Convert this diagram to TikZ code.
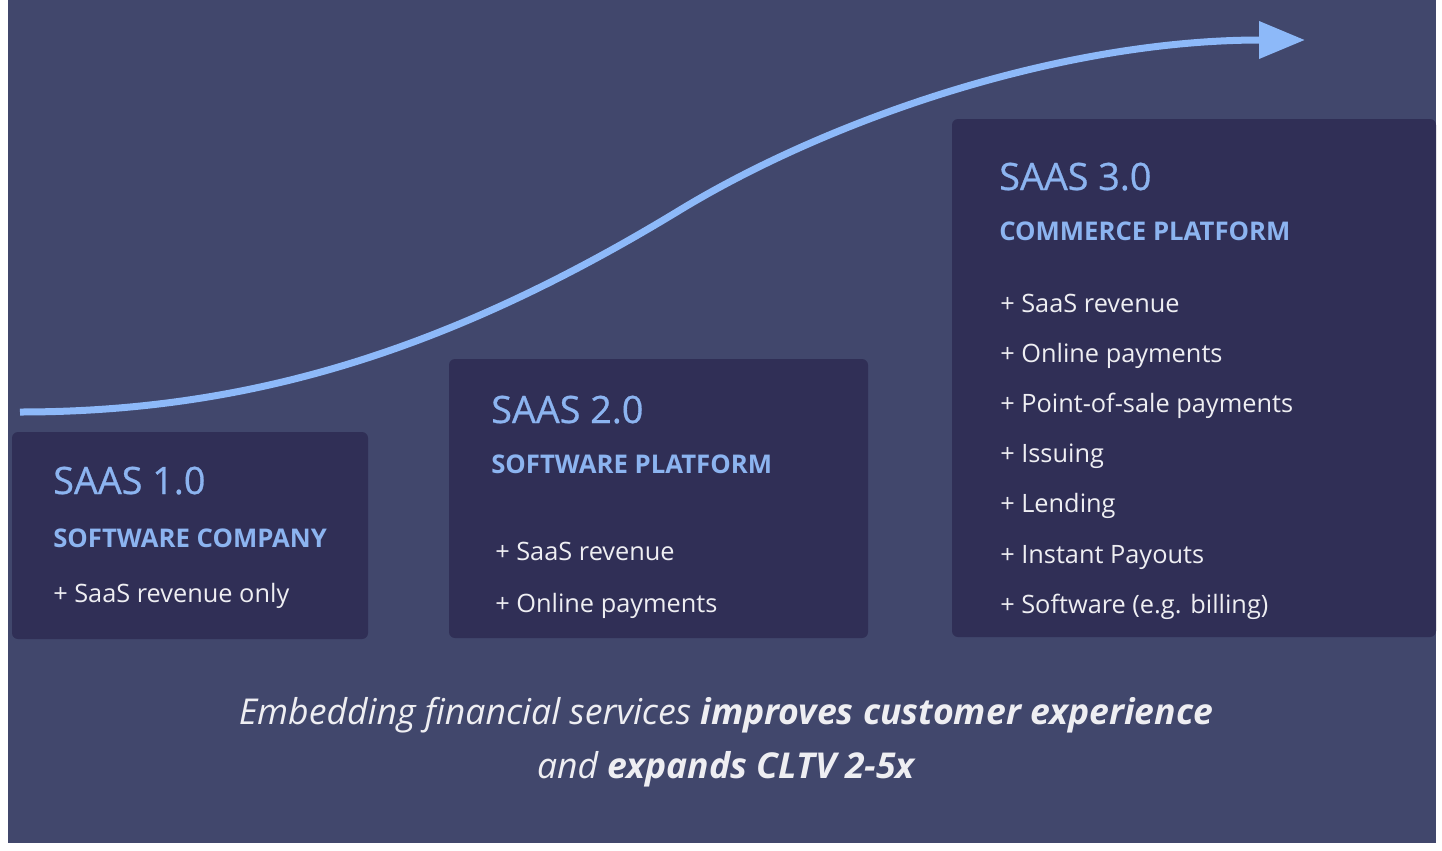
\documentclass[tikz,border=0pt]{standalone}
\usepackage{fontspec}
\setmainfont{Open Sans}
\newfontfamily\titlefont[FakeBold=0.7]{Open Sans}
\usetikzlibrary{arrows.meta}
\definecolor{bgc}{HTML}{41476C}
\definecolor{boxc}{HTML}{302F56}
\definecolor{titlec}{HTML}{8CB4F0}
\definecolor{arrowc}{HTML}{8DB9F9}
\definecolor{itemc}{HTML}{EEEEF2}
\tikzset{
  panel/.style={fill=boxc, rounded corners=4.5pt},
  ttl/.style={anchor=base west, inner sep=0pt, text=titlec, font=\titlefont\fontsize{28.3}{34}\selectfont},
  sub/.style={anchor=base west, inner sep=0pt, text=titlec, font=\bfseries\fontsize{19.3}{24}\selectfont},
  itm/.style={anchor=base west, inner sep=0pt, text=itemc, font=\fontsize{19}{23}\selectfont},
  capt/.style={anchor=base, inner sep=0pt, text=itemc, font=\itshape\fontsize{26.7}{31}\selectfont},
  growth/.style={draw=arrowc, line width=5.25pt, -{Triangle[length=34.5pt,width=27pt,fill=arrowc]}}
}
\begin{document}
\begin{tikzpicture}[x=0.75pt,y=-0.75pt]
\useasboundingbox (0,0) rectangle (1442,850);
\fill[white] (0,0) rectangle (1442,850);
\fill[bgc] (8,0) rectangle (1436,843);
% panels
\fill[panel] (12,432) rectangle (368,639);
\fill[panel] (449,359) rectangle (868,638);
\fill[panel] (952,119) rectangle (1436,637);
% growth curve
\coordinate (c0) at (20,412);
\coordinate (c1) at (680,210);
\coordinate (c2) at (1305,40);
\draw[growth] (c0) .. controls (250,412) and (450,350) .. (c1) .. controls (830,119) and (1060,40) .. (c2);
% box 1
\node[ttl] (t1) at (53,494) {SAAS 1.0};
\node[sub] (s1) at (53,547) {SOFTWARE COMPANY};
\node[itm] (i1a) at (53,602) {+ SaaS revenue only};
% box 2
\node[ttl] (t2) at (491,423) {SAAS 2.0};
\node[sub] (s2) at (491,473) {SOFTWARE PLATFORM};
\node[itm] (i2a) at (495,560) {+ SaaS revenue};
\node[itm] (i2b) at (495,612) {+ Online payments};
% box 3
\node[ttl] (t3) at (999,190) {SAAS 3.0};
\node[sub] (s3) at (999,240) {COMMERCE PLATFORM};
\node[itm] (i3a) at (1000,312) {+ SaaS revenue};
\node[itm] (i3b) at (1000,362) {+ Online payments};
\node[itm] (i3c) at (1000,412) {+ Point-of-sale payments};
\node[itm] (i3d) at (1000,462) {+ Issuing};
\node[itm] (i3e) at (1000,512) {+ Lending};
\node[itm] (i3f) at (1000,563) {+ Instant Payouts};
\node[itm] (i3g) at (1000,613) {+ Software (e.g. billing)};
% caption
\node[capt] (cap1) at (726,724) {Embedding financial services \textbf{improves customer experience}};
\node[capt] (cap2) at (726,778) {and \textbf{expands CLTV 2-5x}};
\end{tikzpicture}
\end{document}
